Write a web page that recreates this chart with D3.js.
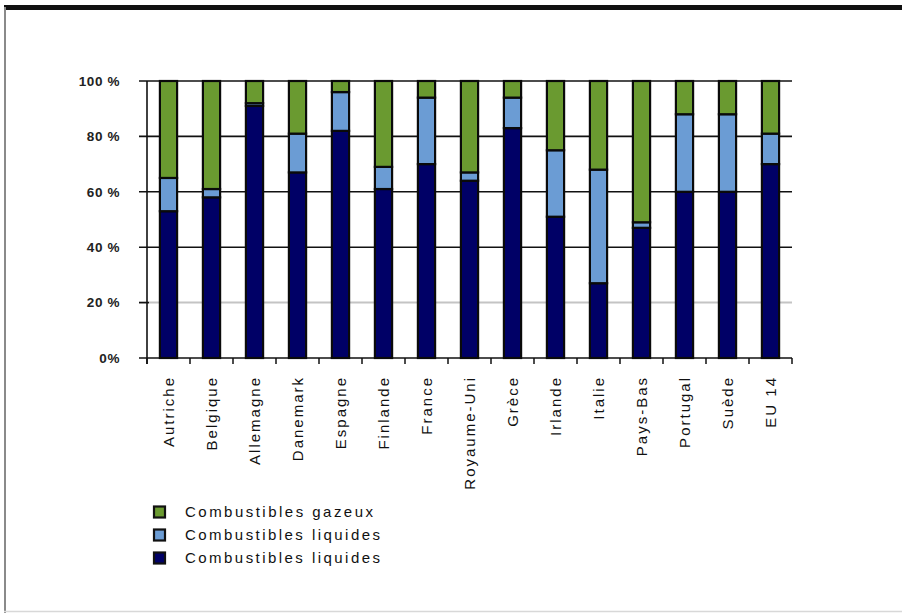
<!DOCTYPE html>
<html>
<head>
<meta charset="utf-8">
<script src="https://cdn.jsdelivr.net/npm/d3@7"></script>
<style>
  html, body { margin: 0; padding: 0; background: #fff; }
  svg { display: block; font-family: "Liberation Sans", Arial, sans-serif; }
</style>
</head>
<body>
<svg id="chart" width="902" height="613"></svg>
<script>
// Pays et part de chaque type de combustible (%)
const categories = ["Autriche", "Belgique", "Allemagne", "Danemark", "Espagne", "Finlande", "France",
  "Royaume-Uni", "Grèce", "Irlande", "Italie", "Pays-Bas", "Portugal", "Suède", "EU 14"];
const solides  = [53, 58, 91, 67, 82, 61, 70, 64, 83, 51, 27, 47, 60, 60, 70];
const liquides = [12,  3,  1, 14, 14,  8, 24,  3, 11, 24, 41,  2, 28, 28, 11];
const gazeux   = [35, 39,  8, 19,  4, 31,  6, 33,  6, 25, 32, 51, 12, 12, 19];
const yTicks = [0, 20, 40, 60, 80, 100];
const yTickLabels = ["0%", "20 %", "40 %", "60 %", "80 %", "100 %"];
const legendLabels = ["Combustibles gazeux", "Combustibles liquides", "Combustibles liquides"];

const seriesKeys = ["solides", "liquides", "gazeux"];
const colors = { solides: "#000066", liquides: "#6b9cd4", gazeux: "#6a9a30" };

const rows = categories.map((c, i) => ({ pays: c, solides: solides[i], liquides: liquides[i], gazeux: gazeux[i] }));
const stacked = d3.stack().keys(seriesKeys)(rows);

const svg = d3.select("#chart");

// Cadre
svg.append("line").attr("x1", 4).attr("x2", 902).attr("y1", 7.5).attr("y2", 7.5)
  .attr("stroke", "#111").attr("stroke-width", 5);
svg.append("line").attr("x1", 5).attr("x2", 5).attr("y1", 7).attr("y2", 613)
  .attr("stroke", "#8a8a8a").attr("stroke-width", 2);
svg.append("line").attr("x1", 4).attr("x2", 902).attr("y1", 611.5).attr("y2", 611.5)
  .attr("stroke", "#d8d8d8").attr("stroke-width", 1.5);

const plot = { left: 147, right: 792, top: 81, bottom: 358 };

const x = d3.scaleBand().domain(categories).range([plot.left, plot.right]).paddingInner(0.6).paddingOuter(0.3);
const xb = d3.scaleBand().domain(categories).range([plot.left, plot.right]);
const y = d3.scaleLinear().domain([0, 100]).range([plot.bottom, plot.top]);

// Grille horizontale
svg.append("g").selectAll("line").data(yTicks).join("line")
  .attr("x1", plot.left - 8).attr("x2", plot.right)
  .attr("y1", d => y(d)).attr("y2", d => y(d))
  .attr("stroke", d => d === 20 ? "#c4c4c4" : "#111")
  .attr("stroke-width", d => d === 20 ? 2 : 1.6);
svg.append("g").selectAll("line").data([20]).join("line")
  .attr("x1", plot.left - 8).attr("x2", plot.left + 2)
  .attr("y1", d => y(d)).attr("y2", d => y(d))
  .attr("stroke", "#111").attr("stroke-width", 1.6);

// Axe vertical
svg.append("line").attr("x1", plot.left).attr("x2", plot.left)
  .attr("y1", plot.top).attr("y2", plot.bottom + 6)
  .attr("stroke", "#111").attr("stroke-width", 1.6);

// Étiquettes de l'axe Y
svg.append("g").selectAll("text").data(yTicks).join("text")
  .attr("x", 120).attr("y", d => y(d))
  .attr("dy", "0.35em").attr("text-anchor", "end")
  .attr("font-size", 13.5).attr("font-weight", "bold").attr("letter-spacing", 0.6).attr("fill", "#222")
  .text((d, i) => yTickLabels[i]);

// Barres empilées
svg.append("g").selectAll("g").data(stacked).join("g")
  .attr("fill", d => colors[d.key])
  .selectAll("rect").data(d => d).join("rect")
  .attr("x", d => x(d.data.pays))
  .attr("width", x.bandwidth())
  .attr("y", d => y(d[1]))
  .attr("height", d => y(d[0]) - y(d[1]))
  .attr("stroke", "#0a0a0a").attr("stroke-width", 2.2);

// Graduations de l'axe X
const bounds = categories.map(c => xb(c)).concat([plot.right]);
svg.append("g").selectAll("line").data(bounds).join("line")
  .attr("x1", d => d).attr("x2", d => d)
  .attr("y1", plot.bottom).attr("y2", plot.bottom + 6)
  .attr("stroke", "#111").attr("stroke-width", 1.5);

// Étiquettes des pays
svg.append("g").selectAll("text").data(categories).join("text")
  .attr("transform", d => `translate(${xb(d) + xb.bandwidth() / 2 + 5},376) rotate(-90)`)
  .attr("text-anchor", "end")
  .attr("font-size", 15).attr("letter-spacing", 2).attr("fill", "#111")
  .text(d => d);

// Légende
const legendColors = [colors.gazeux, colors.liquides, colors.solides];
const lg = svg.append("g").selectAll("g").data(legendLabels).join("g")
  .attr("transform", (d, i) => `translate(153,${512 + i * 23})`);
lg.append("rect").attr("x", 1).attr("y", -5.5).attr("width", 11).attr("height", 11)
  .attr("fill", (d, i) => legendColors[i]).attr("stroke", "#111").attr("stroke-width", 2.2);
lg.append("text").attr("x", 32).attr("y", 0).attr("dy", "0.35em")
  .attr("font-size", 15).attr("fill", "#111")
  .attr("textLength", (d, i) => i === 0 ? 188 : 195).attr("lengthAdjust", "spacing")
  .text(d => d);
</script>
</body>
</html>
